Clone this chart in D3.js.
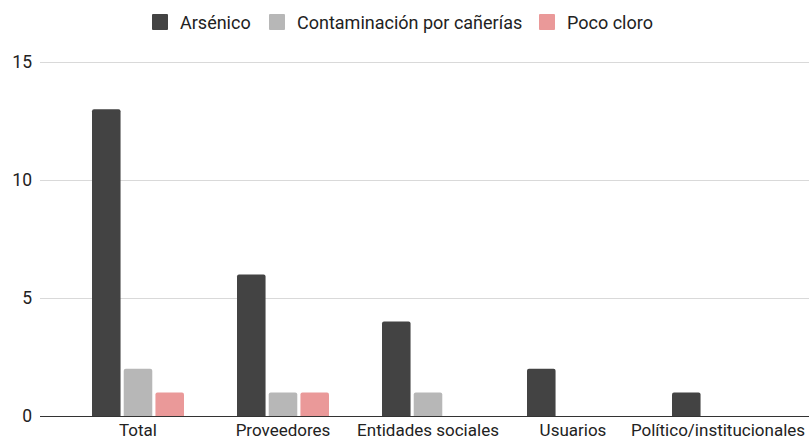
<!DOCTYPE html>
<html>
  <head>
    <meta charset="utf-8">
    <script src="https://d3js.org/d3.v7.min.js"></script>
    <style>
      body { margin: 0; background: #fff; }
      text { font-family: Roboto, "Liberation Sans", sans-serif; }
    </style>
  </head>
  <body>
    <script>
      // chart data
      var categories = ["Total", "Proveedores", "Entidades sociales", "Usuarios", "Político/institucionales"];
      var seriesNames = ["Arsénico", "Contaminación por cañerías", "Poco cloro"];
      var arsenico = [13, 6, 4, 2, 1];
      var canerias = [2, 1, 1, 0, 0];
      var pocoCloro = [1, 1, 0, 0, 0];
      var yTicks = [0, 5, 10, 15];
      var colors = ["#434343", "#b7b7b7", "#ea9999"];

      var width = 809, height = 441;
      var values = [arsenico, canerias, pocoCloro];

      var svg = d3.select("body").append("svg")
          .attr("width", width)
          .attr("height", height);

      var y = d3.scaleLinear().domain([0, 15]).range([416, 62]);
      var x0 = d3.scaleBand().domain(categories).range([65.5, 790.5]);
      var groupW = 92;
      var x1 = d3.scaleBand().domain(seriesNames)
          .range([x0.bandwidth() / 2 - groupW / 2, x0.bandwidth() / 2 + groupW / 2])
          .paddingInner(0.1);

      // gridlines
      svg.append("g").selectAll("line")
          .data(yTicks.filter(function (d) { return d > 0; }))
          .enter().append("line")
          .attr("x1", 40).attr("x2", width)
          .attr("y1", function (d) { return Math.round(y(d)) + 0.5; })
          .attr("y2", function (d) { return Math.round(y(d)) + 0.5; })
          .style("stroke", "#d9d9d9");

      // y labels
      svg.append("g").selectAll("text")
          .data(yTicks)
          .enter().append("text")
          .attr("x", 32)
          .attr("y", function (d) { return y(d); })
          .attr("dy", "0.35em")
          .attr("text-anchor", "end")
          .style("font-size", "17.5px")
          .style("fill", "#222")
          .text(function (d) { return d; });

      // bars with rounded top
      function barPath(x, yTop, w, h, r) {
        if (h <= 0) return "";
        r = Math.min(r, h);
        return "M" + x + "," + (yTop + h) +
          "V" + (yTop + r) +
          "Q" + x + "," + yTop + " " + (x + r) + "," + yTop +
          "H" + (x + w - r) +
          "Q" + (x + w) + "," + yTop + " " + (x + w) + "," + (yTop + r) +
          "V" + (yTop + h) + "Z";
      }

      var groups = svg.append("g").selectAll("g")
          .data(categories)
          .enter().append("g")
          .attr("transform", function (d) { return "translate(" + x0(d) + ",0)"; });

      groups.selectAll("path")
          .data(function (d, i) {
            return seriesNames.map(function (s, j) { return { s: s, j: j, v: values[j][i] }; });
          })
          .enter().append("path")
          .attr("d", function (d) {
            return barPath(x1(d.s), y(d.v), x1.bandwidth(), y(0) - y(d.v), 2);
          })
          .style("fill", function (d) { return colors[d.j]; });

      // baseline
      svg.append("line")
          .attr("x1", 40).attr("x2", width)
          .attr("y1", Math.round(y(0)) + 0.5).attr("y2", Math.round(y(0)) + 0.5)
          .style("stroke", "#333");

      // x labels
      svg.append("g").selectAll("text")
          .data(categories)
          .enter().append("text")
          .attr("x", function (d) { return x0(d) + x0.bandwidth() / 2; })
          .attr("y", 436)
          .attr("text-anchor", "middle")
          .style("font-size", "17px")
          .style("fill", "#222")
          .text(function (d) { return d; });

      // legend
      var legendX = [152, 269, 539];
      var legend = svg.append("g").selectAll("g")
          .data(seriesNames)
          .enter().append("g")
          .attr("transform", function (d, i) { return "translate(" + legendX[i] + ",0)"; });
      legend.append("rect")
          .attr("x", 0).attr("y", 14)
          .attr("width", 16).attr("height", 16)
          .attr("rx", 1)
          .style("fill", function (d, i) { return colors[i]; });
      legend.append("text")
          .attr("x", 28).attr("y", 29)
          .style("font-size", "18px")
          .style("fill", "#222")
          .text(function (d) { return d; });
    </script>
  </body>
</html>
